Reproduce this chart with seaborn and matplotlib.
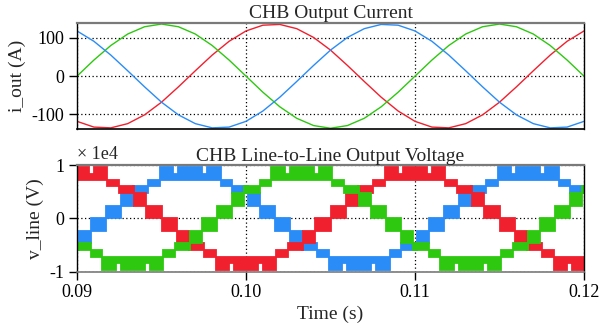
import numpy as np
import pandas as pd
import matplotlib
matplotlib.use("Agg")
import matplotlib.pyplot as plt
import seaborn as sns
from matplotlib.ticker import FuncFormatter

# ---- current samples (A), read every 1 ms from 0.09 s to 0.12 s ----
t_current = [0.090, 0.091, 0.092, 0.093, 0.094, 0.095, 0.096, 0.097, 0.098, 0.099,
             0.100, 0.101, 0.102, 0.103, 0.104, 0.105, 0.106, 0.107, 0.108, 0.109,
             0.110, 0.111, 0.112, 0.113, 0.114, 0.115, 0.116, 0.117, 0.118, 0.119, 0.120]
i_red = [-118, -133, -135, -124, -101, -68, -28, 14, 55, 91,
         118, 133, 135, 124, 101, 68, 28, -14, -55, -91,
         -118, -133, -135, -124, -101, -68, -28, 14, 55, 91, 118]
i_green = [0, 42, 80, 110, 129, 136, 129, 110, 80, 42,
           0, -42, -80, -110, -129, -136, -129, -110, -80, -42,
           0, 42, 80, 110, 129, 136, 129, 110, 80, 42, 0]
i_blue = [118, 91, 55, 14, -28, -68, -101, -124, -135, -133,
          -118, -91, -55, -14, 28, 68, 101, 124, 135, 133,
          118, 91, 55, 14, -28, -68, -101, -124, -135, -133, -118]

# ---- line-to-line voltage: staircase bands over one period (ms from rising zero crossing) ----
step_ms = [0.0, 0.9, 1.6, 2.5, 3.2, 4.0, 4.3, 5.7, 6.0, 6.8, 7.5, 8.4, 9.1,
           10.0, 10.9, 11.6, 12.5, 13.2, 14.0, 14.3, 15.7, 16.0, 16.8, 17.5, 18.4, 19.1, 20.0]
band_lo = [0, 2400, 4700, 6000, 7200, 7200, 7200, 7200, 7200, 6000, 4700, 2400, 0,
           -2400, -4700, -6000, -7200, -9600, -8400, -9600, -8400, -9600, -7200, -6000, -4700, -2400]
band_hi = [2400, 4700, 6000, 7200, 9600, 8400, 9600, 8400, 9600, 7200, 6000, 4700, 2400,
           0, -2400, -4700, -6000, -7200, -7200, -7200, -7200, -7200, -6000, -4700, -2400, 0]

# rising zero crossings of each line voltage (s)
rise_red = [0.0650, 0.0850, 0.1050]
rise_green = [0.0783, 0.0983, 0.1183]
rise_blue = [0.0717, 0.0917, 0.1117]

RED = "#f0202e"
GREEN = "#2ec810"
BLUE = "#2a8cf6"

sns.set_style("ticks")
plt.rcParams["font.family"] = ["Liberation Serif", "DejaVu Serif"]
plt.rcParams["axes.unicode_minus"] = False
plt.rcParams["font.size"] = 13


def build_bands(rises):
    """Stack the one-period band table once per listed zero crossing."""
    t, lo, hi = [], [], []
    for r in rises:
        t.extend([r + s / 1000.0 for s in step_ms[:-1]])
        lo.extend(band_lo)
        hi.extend(band_hi)
    t.append(rises[-1] + step_ms[-1] / 1000.0)
    lo.append(band_lo[-1])
    hi.append(band_hi[-1])
    return np.array(t), np.array(lo), np.array(hi)


def style_axes(ax, bottom_gray):
    for side in ["left", "right"]:
        ax.spines[side].set_color("black")
        ax.spines[side].set_linewidth(1.0)
    ax.spines["top"].set_color("#7a7a7a")
    ax.spines["top"].set_linewidth(1.6)
    ax.spines["bottom"].set_color("#7a7a7a" if bottom_gray else "black")
    ax.spines["bottom"].set_linewidth(1.2)
    ax.tick_params(axis="both", direction="out", length=6, width=1.0, pad=3,
                   labelsize=13, colors="black")


fig = plt.figure(figsize=(6.03, 3.28), dpi=100)
ax1 = fig.add_axes([0.1277, 0.6067, 0.8408, 0.3223])
ax2 = fig.add_axes([0.1277, 0.1716, 0.8408, 0.3253])

# top: output currents
cur = pd.DataFrame({"t": t_current, "red": i_red, "green": i_green, "blue": i_blue})
for col, c in [("red", RED), ("green", GREEN), ("blue", BLUE)]:
    sns.lineplot(data=cur, x="t", y=col, color=c, linewidth=1.0, ax=ax1)
ax1.set_xlim(0.09, 0.12)
ax1.set_ylim(-138, 138)
ax1.set_yticks([-100, 0, 100])
ax1.set_xticks([0.09, 0.10, 0.11, 0.12])
ax1.tick_params(axis="x", bottom=False, labelbottom=False)
ax1.set_xlabel("")
ax1.set_ylabel("i_out (A)", fontsize=14, labelpad=4)
ax1.set_title("CHB Output Current", fontsize=14, pad=4)
ax1.grid(True, color="black", linestyle=(0, (1, 2)), linewidth=0.9)
style_axes(ax1, bottom_gray=False)

# bottom: line-to-line voltages as PWM bands
for rises, c in [(rise_blue, BLUE), (rise_red, RED), (rise_green, GREEN)]:
    t, lo, hi = build_bands(rises)
    ax2.fill_between(t, lo, hi, step="post", facecolor=c, edgecolor=c,
                     linewidth=1.3, joinstyle="miter")
ax2.set_xlim(0.09, 0.12)
ax2.set_ylim(-10000, 10000)
ax2.set_yticks([-10000, 0, 10000])
ax2.yaxis.set_major_formatter(FuncFormatter(lambda v, p: "%d" % round(v / 10000)))
ax2.set_xticks([0.09, 0.10, 0.11, 0.12])
ax2.xaxis.set_major_formatter(FuncFormatter(lambda v, p: "%.2f" % v))
ax2.set_xlabel("Time (s)", fontsize=14, labelpad=3)
ax2.set_ylabel("v_line (V)", fontsize=14, labelpad=4)
ax2.set_title("CHB Line-to-Line Output Voltage", fontsize=14, pad=3)
ax2.text(0.0, 1.015, "\u00d7 1e4", transform=ax2.transAxes, ha="left", va="bottom", fontsize=13)
ax2.grid(True, color="black", linestyle=(0, (1, 2)), linewidth=0.9)
ax2.set_axisbelow(True)
style_axes(ax2, bottom_gray=True)

fig.savefig("out.png", dpi=100)
